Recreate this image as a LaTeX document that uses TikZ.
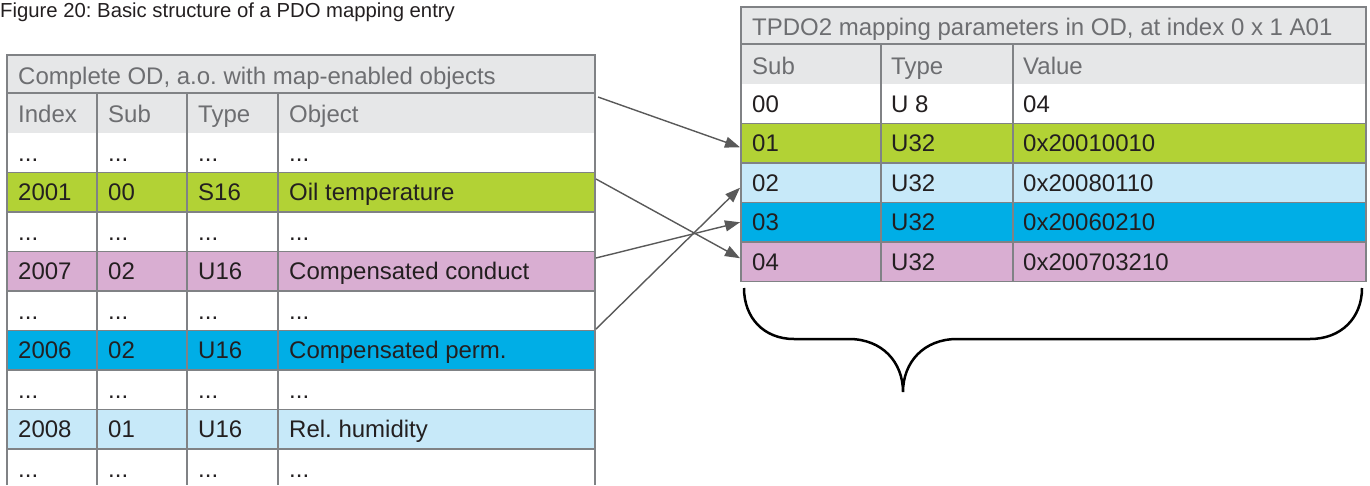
\documentclass[tikz,border=0pt]{standalone}
\usepackage{fontspec}
\setmainfont{Liberation Sans}
\usetikzlibrary{arrows.meta}
\frenchspacing

\definecolor{gridgrey}{HTML}{808285}
\definecolor{headgrey}{HTML}{E6E7E8}
\definecolor{oilgreen}{HTML}{B2D235}
\definecolor{paleblue}{HTML}{C7E9F9}
\definecolor{deepblue}{HTML}{00AEE6}
\definecolor{mauve}{HTML}{D9AED2}
\definecolor{labelgrey}{HTML}{6D6E71}
\definecolor{inkdark}{HTML}{231F20}
\definecolor{arrowgrey}{HTML}{595959}

\tikzset{
  rowband/.style={anchor=north west, inner sep=0pt, outer sep=0pt, draw=none},
  cell/.style={anchor=base west, inner sep=0pt, font=\fontsize{24}{28}\selectfont, text=inkdark},
  headcell/.style={cell, text=labelgrey},
  gridline/.style={draw=gridgrey, line width=1.5pt},
  maplink/.style={draw=arrowgrey, line width=1.4pt, -{Triangle[length=15pt,width=11pt]}},
  bracepath/.style={draw=black, line width=2.5pt},
}

% one row of the object dictionary table: name, top y, fill, four cells
\newcommand\odrow[7]{%
  \node[rowband, fill=#3, minimum width=588pt, minimum height=39.5pt] (#1) at (7,#2) {};
  \node[cell] (#1-a) at (18,{#2+28.25}) {#4};
  \node[cell] (#1-b) at (108,{#2+28.25}) {#5};
  \node[cell] (#1-c) at (198,{#2+28.25}) {#6};
  \node[cell] (#1-d) at (289,{#2+28.25}) {#7};
}
% one row of the mapping parameter table: name, top y, fill, three cells
\newcommand\maprow[6]{%
  \node[rowband, fill=#3, minimum width=625pt, minimum height=39.5pt] (#1) at (741,#2) {};
  \node[cell] (#1-a) at (752,{#2+28.25}) {#4};
  \node[cell] (#1-b) at (891,{#2+28.25}) {#5};
  \node[cell] (#1-c) at (1023,{#2+28.25}) {#6};
}

\begin{document}
\begin{tikzpicture}[x=1pt,y=-1pt]
\useasboundingbox (0,0) rectangle (1370,485);

% caption
\node[anchor=base west, inner sep=0pt, font=\fontsize{20.3}{24}\selectfont, text=inkdark]
  (caption) at (0,17) {Figure 20: Basic structure of a PDO mapping entry};

% ---------- complete object dictionary ----------
\node[rowband, fill=headgrey, minimum width=588pt, minimum height=38pt] (oTitle) at (7,55) {};
\node[headcell] (oTitle-t) at (18,84) {Complete OD, a.o. with map-enabled objects};
\node[rowband, fill=headgrey, minimum width=588pt, minimum height=40pt] (oHead) at (7,93) {};
\node[headcell] (oHead-a) at (18,122.5) {Index};
\node[headcell] (oHead-b) at (108,122.5) {Sub};
\node[headcell] (oHead-c) at (198,122.5) {Type};
\node[headcell] (oHead-d) at (289,122.5) {Object};

\odrow{oDotsA}{133}{white}{...}{...}{...}{...}
\odrow{o2001}{172.5}{oilgreen}{2001}{00}{S16}{Oil temperature}
\odrow{oDotsB}{212}{white}{...}{...}{...}{...}
\odrow{o2007}{251.5}{mauve}{2007}{02}{U16}{Compensated conduct}
\odrow{oDotsC}{291}{white}{...}{...}{...}{...}
\odrow{o2006}{330.5}{deepblue}{2006}{02}{U16}{Compensated perm.}
\odrow{oDotsD}{370}{white}{...}{...}{...}{...}
\odrow{o2008}{409.5}{paleblue}{2008}{01}{U16}{Rel. humidity}
\odrow{oDotsE}{449}{white}{...}{...}{...}{...}

% grid of the object dictionary
\draw[gridline] (7,485) -- (7,55) -- (595,55) -- (595,485);
\foreach \yy in {93,172.5,212,251.5,291,330.5,370,409.5,449}
  \draw[gridline] (7,\yy) -- (595,\yy);
\foreach \xx in {97,187,278}
  \draw[gridline] (\xx,93) -- (\xx,485);

% ---------- TPDO2 mapping parameters ----------
\node[rowband, fill=headgrey, minimum width=625pt, minimum height=37pt] (mTitle) at (741,7) {};
\node[headcell] (mTitle-t) at (752,35) {TPDO2 mapping parameters in OD, at index 0 x 1 A01};
\node[rowband, fill=headgrey, minimum width=625pt, minimum height=40pt] (mHead) at (741,44) {};
\node[headcell] (mHead-a) at (752,74.5) {Sub};
\node[headcell] (mHead-b) at (891,74.5) {Type};
\node[headcell] (mHead-c) at (1023,74.5) {Value};

\maprow{m00}{84}{white}{00}{U 8}{04}
\maprow{m01}{123.5}{oilgreen}{01}{U32}{0x20010010}
\maprow{m02}{163}{paleblue}{02}{U32}{0x20080110}
\maprow{m03}{202.5}{deepblue}{03}{U32}{0x20060210}
\maprow{m04}{242}{mauve}{04}{U32}{0x200703210}

% grid of the mapping table
\draw[gridline] (741,281.5) -- (741,7) -- (1366,7) -- (1366,281.5) -- cycle;
\foreach \yy in {44,123.5,163,202.5,242}
  \draw[gridline] (741,\yy) -- (1366,\yy);
\foreach \xx in {881,1013}
  \draw[gridline] (\xx,44) -- (\xx,281.5);

% ---------- mapping links ----------
\draw[maplink] ([xshift=3pt,yshift=-4pt]oHead.north east) -- ([xshift=-1pt,yshift=-4pt]m01.west);
\draw[maplink] ([xshift=1pt,yshift=-6.5pt]o2001.north east) -- ([xshift=-1pt,yshift=3.5pt]m04.west);
\draw[maplink] ([xshift=1pt,yshift=-6.5pt]o2007.north east) -- ([xshift=-1pt]m03.west);
\draw[maplink] ([xshift=1pt,yshift=1.5pt]o2006.north east) -- ([xshift=-1pt,yshift=-5pt]m02.west);

% ---------- brace under the mapping table ----------
\draw[bracepath] (744,288) .. controls (744,318) and (764,339) .. (794,339)
  -- (849,339) .. controls (882,339) and (903,362) .. (903,392)
  .. controls (903,362) and (924,339) .. (957,339)
  -- (1310,339) .. controls (1341,339) and (1362,318) .. (1362,288);
\end{tikzpicture}
\end{document}
